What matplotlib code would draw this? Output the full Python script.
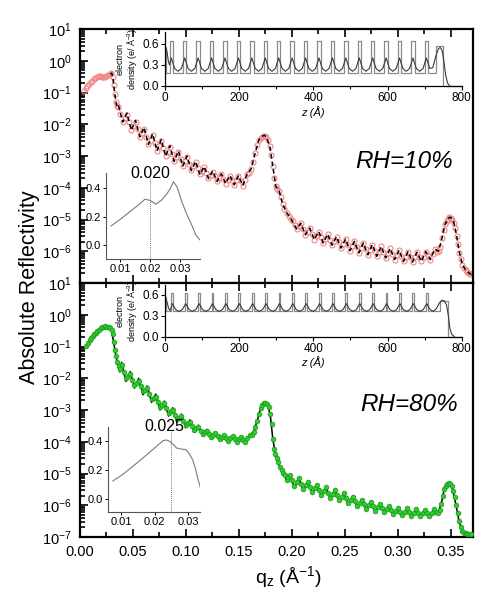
import numpy as np
import matplotlib
matplotlib.use('Agg')
import matplotlib.pyplot as plt
from matplotlib.ticker import MultipleLocator, FixedLocator, NullFormatter, FuncFormatter, FormatStrFormatter

plt.rcParams['font.family'] = ['Liberation Sans', 'DejaVu Sans']
plt.rcParams['mathtext.fontset'] = 'custom'
plt.rcParams['mathtext.rm'] = 'Liberation Sans'
plt.rcParams['mathtext.it'] = 'Liberation Sans:italic'
plt.rcParams['mathtext.bf'] = 'Liberation Sans:bold'
plt.rcParams['mathtext.default'] = 'regular'

# ---------------- reflectivity data (log10 R) ----------------
TOP_Q = [0.0040, 0.0055, 0.0070, 0.0085, 0.0100, 0.0115, 0.0130, 0.0145, 0.0160, 0.0175, 0.0190, 0.0205, 0.0220, 0.0235, 0.0250, 0.0265, 0.0280, 0.0295, 0.0308, 0.0318, 0.0328, 0.0338, 0.0350,
         0.0362, 0.0382, 0.0403, 0.0423, 0.0443, 0.0463, 0.0484, 0.0504, 0.0524, 0.0544, 0.0565, 0.0585, 0.0605, 0.0625, 0.0646, 0.0666, 0.0686, 0.0706, 0.0727, 0.0747, 0.0767, 0.0787, 0.0808, 0.0828, 0.0848, 0.0868, 0.0889, 0.0909, 0.0929, 0.0949, 0.0970, 0.0990, 0.1010, 0.1030, 0.1051, 0.1071, 0.1091, 0.1111, 0.1132, 0.1152, 0.1172, 0.1192, 0.1213, 0.1233, 0.1253, 0.1273, 0.1294, 0.1314, 0.1334, 0.1354, 0.1375, 0.1395, 0.1415, 0.1435, 0.1456, 0.1476, 0.1496, 0.1516, 0.1537, 0.1557, 0.1577,
         0.1597, 0.1617, 0.1635, 0.1652, 0.1670, 0.1688, 0.1706, 0.1724, 0.1742, 0.1760, 0.1776, 0.1792, 0.1806, 0.1820, 0.1834, 0.1848, 0.1864, 0.1880, 0.1896, 0.1912, 0.1930, 0.1950, 0.1970, 0.1990, 0.2010, 0.2030, 0.2045, 0.2065,
         0.2085, 0.2106, 0.2127, 0.2148, 0.2169, 0.2190, 0.2211, 0.2232, 0.2254, 0.2275, 0.2296, 0.2317, 0.2338, 0.2359, 0.2380, 0.2401, 0.2422, 0.2443, 0.2464, 0.2485, 0.2507, 0.2528, 0.2549, 0.2570, 0.2591, 0.2612, 0.2633, 0.2654, 0.2675, 0.2696, 0.2717, 0.2738, 0.2760, 0.2781, 0.2802, 0.2823, 0.2844, 0.2865, 0.2886, 0.2907, 0.2928, 0.2949, 0.2970, 0.2991, 0.3012, 0.3033, 0.3054, 0.3075, 0.3097, 0.3118, 0.3139, 0.3160, 0.3181, 0.3202, 0.3223, 0.3244, 0.3265, 0.3286, 0.3307, 0.3328, 0.3349,
         0.3368, 0.3385, 0.3402, 0.3418, 0.3432, 0.3446, 0.3460, 0.3474, 0.3488, 0.3502, 0.3516, 0.3530, 0.3543, 0.3556, 0.3569, 0.3582, 0.3596, 0.3610, 0.3625, 0.3640, 0.3655, 0.3670, 0.3685]
TOP_LOGR = [-0.95, -0.87, -0.80, -0.74, -0.68, -0.63, -0.59, -0.55, -0.52, -0.49, -0.47, -0.51, -0.52, -0.50, -0.48, -0.45, -0.42, -0.40, -0.52, -0.75, -1.05, -1.30, -1.42,
            -1.45, -1.68, -1.92, -1.80, -1.70, -1.94, -2.18, -2.05, -1.93, -2.16, -2.39, -2.27, -2.15, -2.39, -2.63, -2.49, -2.35, -2.59, -2.83, -2.68, -2.53, -2.76, -3.00, -2.86, -2.72, -2.94, -3.16, -3.02, -2.88, -3.09, -3.31, -3.17, -3.04, -3.24, -3.45, -3.32, -3.20, -3.39, -3.58, -3.47, -3.36, -3.53, -3.70, -3.59, -3.49, -3.64, -3.80, -3.69, -3.58, -3.72, -3.87, -3.75, -3.63, -3.77, -3.91, -3.77, -3.64, -3.78, -3.93, -3.75, -3.58,
            -3.52, -3.40, -3.20, -2.92, -2.66, -2.50, -2.42, -2.37, -2.36, -2.40, -2.50, -2.70, -2.98, -3.32, -3.68, -3.95, -4.04, -4.10, -4.28, -4.50, -4.66, -4.78, -4.88, -4.97, -5.05, -5.18, -5.30, -5.22,
            -5.12, -5.30, -5.48, -5.38, -5.27, -5.45, -5.63, -5.51, -5.38, -5.56, -5.74, -5.60, -5.46, -5.64, -5.81, -5.68, -5.54, -5.72, -5.90, -5.76, -5.62, -5.80, -5.98, -5.84, -5.69, -5.87, -6.05, -5.90, -5.74, -5.93, -6.11, -5.95, -5.79, -5.98, -6.16, -6.01, -5.85, -6.03, -6.21, -6.06, -5.91, -6.09, -6.26, -6.12, -5.97, -6.15, -6.32, -6.17, -6.01, -6.18, -6.34, -6.19, -6.03, -6.18, -6.32, -6.17, -6.01, -6.14, -6.26, -6.10, -5.93,
            -6.02, -6.00, -5.86, -5.58, -5.33, -5.15, -5.04, -4.97, -4.93, -4.94, -5.00, -5.10, -5.28, -5.52, -5.78, -6.04, -6.25, -6.42, -6.52, -6.59, -6.64, -6.68, -6.72]

TOP_FIT_Q = [0.0285, 0.0300, 0.0312, 0.0325, 0.0338, 0.0350,
             0.0362, 0.0403, 0.0443, 0.0484, 0.0524, 0.0565, 0.0605, 0.0646, 0.0686, 0.0727, 0.0767, 0.0808, 0.0848, 0.0889, 0.0929, 0.0970, 0.1010, 0.1051, 0.1091, 0.1132, 0.1172, 0.1213, 0.1253, 0.1294, 0.1334, 0.1375, 0.1415, 0.1456, 0.1496, 0.1537, 0.1577,
             0.1617, 0.1652, 0.1688, 0.1724, 0.1742, 0.1760, 0.1792, 0.1820, 0.1848, 0.1880, 0.1912, 0.1950, 0.1990, 0.2045,
             0.2085, 0.2127, 0.2169, 0.2211, 0.2254, 0.2296, 0.2338, 0.2380, 0.2422, 0.2464, 0.2507, 0.2549, 0.2591, 0.2633, 0.2675, 0.2717, 0.2760, 0.2802, 0.2844, 0.2886, 0.2928, 0.2970, 0.3012, 0.3054, 0.3097, 0.3139, 0.3181, 0.3223, 0.3265, 0.3307, 0.3349,
             0.3385, 0.3418, 0.3446, 0.3474, 0.3488, 0.3502, 0.3530, 0.3556, 0.3582, 0.3610, 0.3640, 0.3670, 0.3700]
TOP_FIT_LOGR = [-0.41, -0.39, -0.58, -0.95, -1.28, -1.45,
                -1.40, -1.93, -1.65, -2.19, -1.88, -2.40, -2.10, -2.64, -2.30, -2.84, -2.48, -3.01, -2.68, -3.17, -2.84, -3.32, -3.00, -3.46, -3.17, -3.59, -3.33, -3.71, -3.47, -3.80, -3.56, -3.87, -3.61, -3.91, -3.62, -3.93, -3.57,
                -3.40, -2.92, -2.50, -2.37, -2.35, -2.40, -2.70, -3.32, -3.95, -4.10, -4.50, -4.78, -4.97, -5.30,
                -5.12, -5.48, -5.27, -5.63, -5.38, -5.74, -5.46, -5.81, -5.54, -5.90, -5.62, -5.98, -5.69, -6.05, -5.74, -6.11, -5.79, -6.16, -5.85, -6.21, -5.91, -6.26, -5.97, -6.32, -6.01, -6.34, -6.03, -6.32, -6.01, -6.26, -5.93,
                -6.00, -5.58, -5.15, -4.97, -4.93, -4.94, -5.10, -5.52, -6.04, -6.42, -6.59, -6.68, -6.75]

BOT_Q = [0.0060, 0.0075, 0.0090, 0.0105, 0.0120, 0.0135, 0.0150, 0.0165, 0.0180, 0.0195, 0.0210, 0.0225, 0.0240, 0.0255, 0.0270, 0.0285, 0.0298, 0.0310, 0.0320, 0.0330, 0.0340, 0.0352, 0.0364, 0.0376,
         0.0393, 0.0413, 0.0433, 0.0454, 0.0474, 0.0494, 0.0514, 0.0534, 0.0554, 0.0574, 0.0594, 0.0615, 0.0635, 0.0655, 0.0675, 0.0695, 0.0715, 0.0735, 0.0755, 0.0776, 0.0796, 0.0816, 0.0836, 0.0856, 0.0876, 0.0896, 0.0916, 0.0937, 0.0957, 0.0977, 0.0997, 0.1017, 0.1037, 0.1057, 0.1077, 0.1098, 0.1118, 0.1138, 0.1158, 0.1178, 0.1198, 0.1218, 0.1238, 0.1259, 0.1279, 0.1299, 0.1319, 0.1339, 0.1359, 0.1379, 0.1399, 0.1420, 0.1440, 0.1460, 0.1480, 0.1500, 0.1520, 0.1540, 0.1560, 0.1581, 0.1601,
         0.1620, 0.1638, 0.1655, 0.1672, 0.1689, 0.1705, 0.1720, 0.1735, 0.1750, 0.1765, 0.1780, 0.1795, 0.1808, 0.1820, 0.1832, 0.1845, 0.1858, 0.1872, 0.1888, 0.1905, 0.1920, 0.1935, 0.1950, 0.1965,
         0.1981, 0.2002, 0.2023, 0.2045, 0.2066, 0.2087, 0.2108, 0.2130, 0.2151, 0.2172, 0.2193, 0.2215, 0.2236, 0.2257, 0.2278, 0.2300, 0.2321, 0.2342, 0.2363, 0.2385, 0.2406, 0.2427, 0.2448, 0.2470, 0.2491, 0.2512, 0.2533, 0.2555, 0.2576, 0.2597, 0.2618, 0.2640, 0.2661, 0.2682, 0.2703, 0.2725, 0.2746, 0.2767, 0.2788, 0.2810, 0.2831, 0.2852, 0.2873, 0.2895, 0.2916, 0.2937, 0.2958, 0.2980, 0.3001, 0.3022, 0.3043, 0.3065, 0.3086, 0.3107, 0.3128, 0.3150, 0.3171, 0.3192, 0.3213, 0.3235, 0.3256, 0.3277, 0.3298, 0.3320, 0.3341,
         0.3360, 0.3378, 0.3395, 0.3410, 0.3424, 0.3438, 0.3452, 0.3466, 0.3480, 0.3494, 0.3508, 0.3522, 0.3536, 0.3550, 0.3564, 0.3578, 0.3592, 0.3608, 0.3624, 0.3640, 0.3656, 0.3672, 0.3688]
BOT_LOGR = [-0.97, -0.88, -0.80, -0.73, -0.67, -0.61, -0.56, -0.51, -0.47, -0.43, -0.40, -0.38, -0.37, -0.38, -0.40, -0.43, -0.48, -0.62, -0.85, -1.11, -1.30, -1.48, -1.62, -1.70,
            -1.58, -1.79, -1.99, -1.93, -1.87, -2.04, -2.20, -2.14, -2.08, -2.25, -2.41, -2.36, -2.32, -2.49, -2.65, -2.61, -2.58, -2.74, -2.89, -2.84, -2.79, -2.95, -3.09, -3.04, -3.00, -3.15, -3.29, -3.24, -3.19, -3.34, -3.47, -3.42, -3.37, -3.50, -3.62, -3.57, -3.53, -3.65, -3.75, -3.70, -3.65, -3.76, -3.85, -3.79, -3.73, -3.83, -3.92, -3.85, -3.79, -3.89, -3.97, -3.89, -3.82, -3.92, -4.00, -3.92, -3.84, -3.93, -4.00, -3.89, -3.79,
            -3.80, -3.70, -3.55, -3.34, -3.12, -2.95, -2.85, -2.79, -2.77, -2.80, -2.90, -3.12, -3.45, -3.90, -4.22, -4.40, -4.52, -4.65, -4.80, -4.90, -4.98, -5.05, -5.20, -5.12,
            -5.05, -5.22, -5.39, -5.27, -5.15, -5.32, -5.49, -5.37, -5.26, -5.43, -5.59, -5.47, -5.36, -5.52, -5.67, -5.55, -5.44, -5.60, -5.76, -5.64, -5.52, -5.68, -5.84, -5.73, -5.62, -5.78, -5.94, -5.83, -5.73, -5.88, -6.03, -5.93, -5.83, -5.97, -6.11, -6.00, -5.89, -6.03, -6.17, -6.06, -5.96, -6.09, -6.22, -6.12, -6.02, -6.15, -6.27, -6.18, -6.10, -6.21, -6.32, -6.21, -6.10, -6.22, -6.34, -6.23, -6.13, -6.24, -6.35, -6.25, -6.15, -6.25, -6.34, -6.23, -6.13,
            -6.20, -6.25, -6.15, -5.95, -5.70, -5.50, -5.38, -5.32, -5.29, -5.32, -5.40, -5.55, -5.75, -6.00, -6.25, -6.50, -6.68, -6.80, -6.86, -6.88, -6.89, -6.90, -6.92]

BOT_FIT_Q = [0.0285, 0.0300, 0.0315, 0.0330, 0.0345, 0.0360, 0.0376,
             0.0393, 0.0433, 0.0474, 0.0514, 0.0554, 0.0594, 0.0635, 0.0675, 0.0715, 0.0755, 0.0796, 0.0836, 0.0876, 0.0916, 0.0957, 0.0997, 0.1037, 0.1077, 0.1118, 0.1158, 0.1198, 0.1238, 0.1279, 0.1319, 0.1359, 0.1399, 0.1440, 0.1480, 0.1520, 0.1560, 0.1601,
             0.1638, 0.1672, 0.1705, 0.1735, 0.1750, 0.1765, 0.1795, 0.1820, 0.1845, 0.1872, 0.1905, 0.1935, 0.1950,
             0.1981, 0.2023, 0.2066, 0.2108, 0.2151, 0.2193, 0.2236, 0.2278, 0.2321, 0.2363, 0.2406, 0.2448, 0.2491, 0.2533, 0.2576, 0.2618, 0.2661, 0.2703, 0.2746, 0.2788, 0.2831, 0.2873, 0.2916, 0.2958, 0.3001, 0.3043, 0.3086, 0.3128, 0.3171, 0.3213, 0.3256, 0.3298, 0.3341,
             0.3378, 0.3410, 0.3438, 0.3466, 0.3480, 0.3494, 0.3522, 0.3550, 0.3578, 0.3608, 0.3640, 0.3688]
BOT_FIT_LOGR = [-0.43, -0.52, -0.82, -1.12, -1.40, -1.62, -1.80,
                -1.50, -2.10, -1.79, -2.31, -2.00, -2.52, -2.24, -2.76, -2.50, -3.00, -2.72, -3.19, -2.93, -3.38, -3.13, -3.56, -3.31, -3.70, -3.48, -3.82, -3.61, -3.91, -3.70, -3.97, -3.77, -4.01, -3.80, -4.03, -3.83, -4.02, -3.78,
                -3.70, -3.34, -2.95, -2.79, -2.76, -2.80, -3.12, -3.90, -4.40, -4.68, -4.92, -5.08, -5.25,
                -5.03, -5.43, -5.13, -5.53, -5.24, -5.63, -5.34, -5.71, -5.42, -5.80, -5.50, -5.88, -5.60, -5.98, -5.71, -6.07, -5.81, -6.15, -5.87, -6.21, -5.94, -6.26, -6.00, -6.31, -6.08, -6.36, -6.08, -6.38, -6.11, -6.39, -6.13, -6.38, -6.11,
                -6.28, -5.95, -5.50, -5.32, -5.28, -5.31, -5.55, -6.00, -6.50, -6.80, -6.90, -6.93]

# ---------------- electron density profiles ----------------
TOP_HEAD_Z = [17.0, 53.2, 89.4, 125.6, 161.8, 198.0, 234.2, 270.4, 306.6, 342.8, 379.0, 415.2, 451.4, 487.6, 523.8, 560.0, 596.2, 632.4, 668.6, 704.8]
TOP_HEAD_WIDTH = 9.0
TOP_HEAD_RHO = 0.637
TOP_TAIL_RHO = 0.19
TOP_START = (0.0, 3.0, 0.56)          # z0, z1, rho
TOP_CAP = (730.0, 750.0, 0.571)       # z_left, z_right, rho

TOP_SMOOTH_Z = [0, 5, 9, 12,
                17.0, 26.0, 35.1, 44.2, 53.2, 62.2, 71.3, 80.4, 89.4, 98.4, 107.5, 116.6,
                125.6, 134.6, 143.7, 152.8, 161.8, 170.8, 179.9, 189.0, 198.0, 207.0, 216.1, 225.2,
                234.2, 243.2, 252.3, 261.4, 270.4, 279.4, 288.5, 297.6, 306.6, 315.6, 324.7, 333.8,
                342.8, 351.8, 360.9, 370.0, 379.0, 388.0, 397.1, 406.2, 415.2, 424.2, 433.3, 442.4,
                451.4, 460.4, 469.5, 478.6, 487.6, 496.6, 505.7, 514.8, 523.8, 532.8, 541.9, 551.0,
                560.0, 569.0, 578.1, 587.2, 596.2, 605.2, 614.3, 623.4, 632.4, 641.4, 650.5, 659.6,
                668.6, 677.6, 686.7, 695.8, 704.8, 713.8,
                722, 730, 737, 742, 747, 752, 757, 762, 768]
TOP_SMOOTH_RHO = [0.56, 0.50, 0.36, 0.30,
                  0.40, 0.25, 0.21, 0.25, 0.40, 0.25, 0.21, 0.25, 0.40, 0.25, 0.21, 0.25,
                  0.40, 0.25, 0.21, 0.25, 0.40, 0.25, 0.21, 0.25, 0.40, 0.25, 0.21, 0.25,
                  0.40, 0.25, 0.21, 0.25, 0.40, 0.25, 0.21, 0.25, 0.40, 0.25, 0.21, 0.25,
                  0.40, 0.25, 0.21, 0.25, 0.40, 0.25, 0.21, 0.25, 0.40, 0.25, 0.21, 0.25,
                  0.40, 0.25, 0.21, 0.25, 0.40, 0.25, 0.21, 0.25, 0.40, 0.25, 0.21, 0.25,
                  0.40, 0.25, 0.21, 0.25, 0.40, 0.25, 0.21, 0.25, 0.40, 0.25, 0.21, 0.25,
                  0.40, 0.25, 0.21, 0.25, 0.40, 0.25,
                  0.26, 0.42, 0.53, 0.55, 0.51, 0.35, 0.15, 0.04, 0.0]

BOT_HEAD_Z = [19.8, 55.9, 92.0, 128.1, 164.2, 200.3, 236.4, 272.5, 308.6, 344.7, 380.8, 416.9, 453.0, 489.1, 525.2, 561.3, 597.4, 633.5, 669.6, 705.7]
BOT_HEAD_WIDTH = 5.0
BOT_HEAD_RHO = 0.626
BOT_TAIL_RHO = 0.364
BOT_START = (0.0, 3.0, 0.56)
BOT_CAP = (741.0, 764.0, 0.51)

BOT_SMOOTH_Z = [0, 5, 10, 14,
                19.8, 28.8, 37.8, 46.8, 55.9, 64.9, 73.9, 82.9, 92.0, 101.0, 110.0, 119.0,
                128.1, 137.1, 146.1, 155.1, 164.2, 173.2, 182.2, 191.2, 200.3, 209.3, 218.3, 227.3,
                236.4, 245.4, 254.4, 263.4, 272.5, 281.5, 290.5, 299.5, 308.6, 317.6, 326.6, 335.6,
                344.7, 353.7, 362.7, 371.7, 380.8, 389.8, 398.8, 407.8, 416.9, 425.9, 434.9, 443.9,
                453.0, 462.0, 471.0, 480.0, 489.1, 498.1, 507.1, 516.1, 525.2, 534.2, 543.2, 552.2,
                561.3, 570.3, 579.3, 588.3, 597.4, 606.4, 615.4, 624.4, 633.5, 642.5, 651.5, 660.5,
                669.6, 678.6, 687.6, 696.6, 705.7, 714.7, 723.7,
                732, 740, 747, 753, 759, 764, 768, 773, 780]
BOT_SMOOTH_RHO = [0.56, 0.50, 0.40, 0.37,
                  0.47, 0.385, 0.36, 0.385, 0.47, 0.385, 0.36, 0.385, 0.47, 0.385, 0.36, 0.385,
                  0.47, 0.385, 0.36, 0.385, 0.47, 0.385, 0.36, 0.385, 0.47, 0.385, 0.36, 0.385,
                  0.47, 0.385, 0.36, 0.385, 0.47, 0.385, 0.36, 0.385, 0.47, 0.385, 0.36, 0.385,
                  0.47, 0.385, 0.36, 0.385, 0.47, 0.385, 0.36, 0.385, 0.47, 0.385, 0.36, 0.385,
                  0.47, 0.385, 0.36, 0.385, 0.47, 0.385, 0.36, 0.385, 0.47, 0.385, 0.36, 0.385,
                  0.47, 0.385, 0.36, 0.385, 0.47, 0.385, 0.36, 0.385, 0.47, 0.385, 0.36, 0.385,
                  0.47, 0.385, 0.36, 0.385, 0.47, 0.385, 0.36,
                  0.40, 0.48, 0.52, 0.51, 0.45, 0.30, 0.12, 0.03, 0.0]

# ---------------- small insets ----------------
TOP_SF_Q = [0.0070, 0.0100, 0.0130, 0.0160, 0.0183, 0.0200, 0.0220, 0.0240, 0.0256, 0.0268, 0.0278, 0.0290, 0.0306, 0.0322, 0.0339, 0.0353, 0.0367]
TOP_SF_V = [0.134, 0.180, 0.230, 0.280, 0.323, 0.315, 0.288, 0.320, 0.360, 0.400, 0.447, 0.410, 0.306, 0.220, 0.141, 0.070, 0.035]
TOP_SF_MARK = 0.020
BOT_SF_Q = [0.0076, 0.0100, 0.0125, 0.0152, 0.0180, 0.0205, 0.0225, 0.0235, 0.0245, 0.0255, 0.0265, 0.0278, 0.0293, 0.0303, 0.0313, 0.0321, 0.0328, 0.0338]
BOT_SF_V = [0.124, 0.160, 0.205, 0.256, 0.310, 0.360, 0.400, 0.405, 0.395, 0.375, 0.350, 0.343, 0.338, 0.310, 0.269, 0.210, 0.143, 0.062]
BOT_SF_MARK = 0.025

X_TICKS = [0.00, 0.05, 0.10, 0.15, 0.20, 0.25, 0.30, 0.35]
LABELS = ['RH=10%', 'RH=80%']

# ---------------- figure ----------------
W, H = 484, 602
fig = plt.figure(figsize=(W / 100, H / 100), dpi=100)


def rect(l, t, r, b):
    return [l / W, 1 - b / H, (r - l) / W, (b - t) / H]


ax_top = fig.add_axes(rect(80, 29, 473, 283))
ax_bot = fig.add_axes(rect(80, 283, 473, 537))


def setup_main(ax, hide_min):
    ax.set_yscale('log')
    ax.set_xlim(0, 0.371)
    ax.set_ylim(1e-7, 1e1)
    ax.xaxis.set_major_locator(FixedLocator(X_TICKS))
    ax.xaxis.set_minor_locator(MultipleLocator(0.025))
    ax.xaxis.set_major_formatter(FormatStrFormatter('%.2f'))
    ax.yaxis.set_major_locator(FixedLocator(10.0 ** np.arange(-7, 2)))
    ax.yaxis.set_minor_locator(FixedLocator([m * 10.0 ** e for e in range(-7, 1) for m in range(2, 10)]))
    ax.yaxis.set_minor_formatter(NullFormatter())

    def fmt(v, pos):
        e = int(round(np.log10(v)))
        if hide_min and e == -7:
            return ''
        return r'$10^{%d}$' % e
    ax.yaxis.set_major_formatter(FuncFormatter(fmt))
    ax.tick_params(which='both', direction='in', top=True, right=False, width=1.2, labelsize=10.5)
    ax.tick_params(which='major', length=6, pad=6)
    ax.tick_params(which='minor', length=3.5)
    for s in ax.spines.values():
        s.set_linewidth(1.6)


setup_main(ax_top, True)
setup_main(ax_bot, False)
ax_top.tick_params(labelbottom=False)

ax_top.plot(TOP_Q, 10 ** np.array(TOP_LOGR), 'o', mfc='none', mec='#ef8585', ms=3.6, mew=0.8, zorder=2)
ax_top.plot(TOP_FIT_Q, 10 ** np.array(TOP_FIT_LOGR), color='black', lw=1.1, ls=(0, (3, 2)), zorder=3)

ax_bot.plot(BOT_FIT_Q, 10 ** np.array(BOT_FIT_LOGR), color='black', lw=1.1, zorder=2)
ax_bot.plot(BOT_Q, 10 ** np.array(BOT_LOGR), 'o', mfc='#2ecc2e', mec='#1a9a1a', ms=3.4, mew=0.5, zorder=3)

ax_top.text(0.824, 0.478, LABELS[0], transform=ax_top.transAxes, fontsize=17.5, style='italic', ha='center', va='center')
ax_bot.text(0.837, 0.52, LABELS[1], transform=ax_bot.transAxes, fontsize=17.5, style='italic', ha='center', va='center')

fig.text(30 / W, 1 - 287 / H, 'Absolute Reflectivity', rotation=90, fontsize=15.5, ha='center', va='center')
fig.text(288 / W, 1 - 577 / H, 'q$_z$ (Å$^{-1}$)', fontsize=14, ha='center', va='center')


# ---------------- density insets ----------------
def box_profile(start, centers, width, head, tail, cap):
    z = [start[0], start[1], start[1]]
    r = [start[2], start[2], tail]
    for c in centers:
        z += [c - width / 2, c - width / 2, c + width / 2, c + width / 2]
        r += [tail, head, head, tail]
    z += [cap[0], cap[0], cap[1], cap[1], 800]
    r += [tail, cap[2], cap[2], 0, 0]
    return z, r


def density_inset(r_px, top_rho, centers, width, head, tail, start, cap, sz, srho):
    ax = fig.add_axes(rect(*r_px))
    ax.patch.set_alpha(0)
    ax.set_xlim(0, 800)
    ax.set_ylim(0, top_rho)
    bz, br = box_profile(start, centers, width, head, tail, cap)
    ax.plot(bz, br, color='#8a8a8a', lw=0.9, clip_on=False)
    ax.plot(sz, srho, color='#3a3a3a', lw=0.8)
    for s in ['top', 'right']:
        ax.spines[s].set_visible(False)
    for s in ['left', 'bottom']:
        ax.spines[s].set_linewidth(0.9)
    ax.xaxis.set_major_locator(MultipleLocator(200))
    ax.xaxis.set_minor_locator(MultipleLocator(100))
    ax.yaxis.set_major_locator(FixedLocator([0.0, 0.3, 0.6]))
    ax.yaxis.set_major_formatter(FormatStrFormatter('%.1f'))
    ax.tick_params(which='both', direction='out', labelsize=8.5, width=0.8, pad=1.5)
    ax.tick_params(which='major', length=3)
    ax.tick_params(which='minor', length=2)
    ax.set_xlabel('z (Å)', fontsize=8, style='italic', labelpad=1)
    ax.set_ylabel('electron\ndensity (e/ Å$^{-3}$)', fontsize=6.5, labelpad=2, linespacing=1.1)
    return ax


density_inset((165, 32, 461.7, 86), 0.77, TOP_HEAD_Z, TOP_HEAD_WIDTH, TOP_HEAD_RHO, TOP_TAIL_RHO,
              TOP_START, TOP_CAP, TOP_SMOOTH_Z, TOP_SMOOTH_RHO)
density_inset((165, 285, 461.7, 336.5), 0.736, BOT_HEAD_Z, BOT_HEAD_WIDTH, BOT_HEAD_RHO, BOT_TAIL_RHO,
              BOT_START, BOT_CAP, BOT_SMOOTH_Z, BOT_SMOOTH_RHO)


# ---------------- small insets ----------------
def sf_inset(r_px, xlim, ylim, q, v, mark, label_x):
    ax = fig.add_axes(rect(*r_px))
    ax.patch.set_alpha(0)
    ax.set_xlim(*xlim)
    ax.set_ylim(*ylim)
    ax.plot(q, v, color='#7a7a7a', lw=0.8)
    ax.plot([mark, mark], [ylim[0], ylim[1] * 0.95], color='#7a7a7a', lw=0.7, ls=(0, (1, 1)))
    ax.text(label_x, ylim[1], '%.3f' % mark, fontsize=11.5, ha='center', va='center')
    for s in ['top', 'right']:
        ax.spines[s].set_visible(False)
    for s in ['left', 'bottom']:
        ax.spines[s].set_linewidth(0.8)
        ax.spines[s].set_color('#555555')
    ax.xaxis.set_major_locator(FixedLocator([0.01, 0.02, 0.03]))
    ax.xaxis.set_major_formatter(FormatStrFormatter('%.2f'))
    ax.yaxis.set_major_locator(FixedLocator([0.0, 0.2, 0.4]))
    ax.yaxis.set_major_formatter(FormatStrFormatter('%.1f'))
    ax.tick_params(direction='out', length=2, width=0.7, labelsize=8, pad=1.5)
    return ax


sf_inset((106, 173.3, 200, 259.3), (0.00533, 0.03667), (-0.101, 0.506), TOP_SF_Q, TOP_SF_V, TOP_SF_MARK, 0.0200)
sf_inset((107.7, 426.7, 200, 511.7), (0.00605, 0.03348), (-0.087, 0.496), BOT_SF_Q, BOT_SF_V, BOT_SF_MARK, 0.0230)

fig.savefig('out.png', dpi=100)
